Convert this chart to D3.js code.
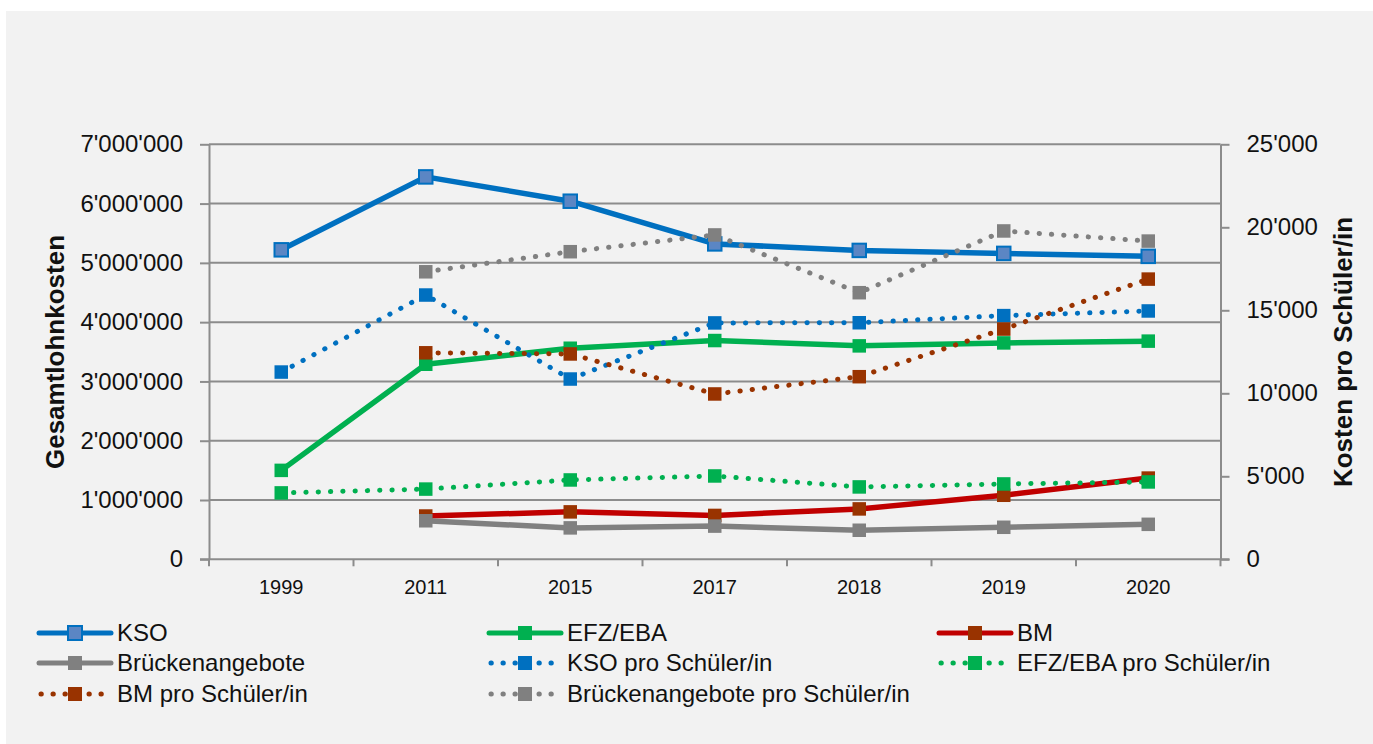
<!DOCTYPE html>
<html>
<head>
<meta charset="utf-8">
<script src="https://cdn.jsdelivr.net/npm/d3@7"></script>
<style>
    body { margin: 0; background: #fff; }
    svg text { font-family: "Liberation Sans", Arial, sans-serif; fill: #111; }
</style>
</head>
<body>
<div id="chart"></div>
<script>
// categories and values
const years = ["1999", "2011", "2015", "2017", "2018", "2019", "2020"];

// Gesamtlohnkosten (left axis)
const kso      = [5220000, 6450000, 6040000, 5320000, 5210000, 5160000, 5110000];
const efz      = [1500000, 3290000, 3560000, 3690000, 3600000, 3650000, 3680000];
const bm       = [null, 730000, 800000, 740000, 850000, 1080000, 1370000];
const bruecken = [null, 650000, 530000, 560000, 490000, 540000, 590000];

// Kosten pro Schüler/in (right axis)
const ksoPro      = [11280, 15920, 10860, 14240, 14250, 14680, 14960];
const efzPro      = [4000, 4230, 4780, 5020, 4360, 4540, 4660];
const bmPro       = [null, 12440, 12370, 9960, 11000, 13870, 16880];
const brueckenPro = [null, 17320, 18530, 19540, 16060, 19780, 19170];

const leftTicks = [0, 1000000, 2000000, 3000000, 4000000, 5000000, 6000000, 7000000];
const rightTicks = [0, 5000, 10000, 15000, 20000, 25000];

const series = [
    {name: "KSO", values: kso, axis: "L", line: "#0070c0", marker: "#5b86c4", mstroke: "#0070c0", dotted: false},
    {name: "EFZ/EBA", values: efz, axis: "L", line: "#00b050", marker: "#00b050", dotted: false},
    {name: "BM", values: bm, axis: "L", line: "#c00000", marker: "#993300", dotted: false},
    {name: "Brückenangebote", values: bruecken, axis: "L", line: "#808080", marker: "#808080", dotted: false},
    {name: "KSO pro Schüler/in", values: ksoPro, axis: "R", line: "#0070c0", marker: "#0070c0", dotted: true},
    {name: "EFZ/EBA pro Schüler/in", values: efzPro, axis: "R", line: "#00b050", marker: "#00b050", dotted: true},
    {name: "BM pro Schüler/in", values: bmPro, axis: "R", line: "#993300", marker: "#993300", dotted: true},
    {name: "Brückenangebote pro Schüler/in", values: brueckenPro, axis: "R", line: "#808080", marker: "#808080", dotted: true}
];

const width = 1373, height = 744;
const plot = {left: 209, right: 1220.5, top: 144.3, bottom: 559.3};

const fmt = d3.formatLocale({decimal: ".", thousands: "'", grouping: [3], currency: ["", ""]}).format(",");

const svg = d3.select("#chart").append("svg")
    .attr("width", width)
    .attr("height", height);

// grey panel
svg.append("rect")
    .attr("x", 6).attr("y", 11)
    .attr("width", width - 6).attr("height", height - 11)
    .attr("fill", "#f2f2f2");

const x = d3.scaleBand().domain(years).range([plot.left, plot.right]);
const yL = d3.scaleLinear().domain([0, 7000000]).range([plot.bottom, plot.top]);
const yR = d3.scaleLinear().domain([0, 25000]).range([plot.bottom, plot.top]);

const axisColor = "#8c8c8c";

// gridlines
svg.append("g")
    .selectAll("line")
    .data(leftTicks.slice(1))
    .join("line")
    .attr("x1", plot.left).attr("x2", plot.right)
    .attr("y1", d => yL(d)).attr("y2", d => yL(d))
    .attr("stroke", axisColor)
    .attr("stroke-width", 2);

// left axis
const gL = svg.append("g")
    .attr("transform", `translate(${plot.left},0)`)
    .call(d3.axisLeft(yL).tickValues(leftTicks).tickFormat(fmt).tickSizeInner(9).tickSizeOuter(0).tickPadding(17));
gL.select(".domain").attr("stroke", axisColor).attr("stroke-width", 2);
gL.selectAll(".tick line").attr("stroke", axisColor).attr("stroke-width", 2);
gL.selectAll(".tick text").attr("font-size", 24).attr("font-family", "Liberation Sans, Arial, sans-serif").attr("fill", "#111");

// right axis
const gR = svg.append("g")
    .attr("transform", `translate(${plot.right},0)`)
    .call(d3.axisRight(yR).tickValues(rightTicks).tickFormat(fmt).tickSizeInner(9).tickSizeOuter(0).tickPadding(17));
gR.select(".domain").attr("stroke", axisColor).attr("stroke-width", 2);
gR.selectAll(".tick line").attr("stroke", axisColor).attr("stroke-width", 2);
gR.selectAll(".tick text").attr("font-size", 24).attr("font-family", "Liberation Sans, Arial, sans-serif").attr("fill", "#111");

// x axis
const gX = svg.append("g");
gX.append("line")
    .attr("x1", plot.left - 9).attr("x2", plot.right + 9)
    .attr("y1", plot.bottom).attr("y2", plot.bottom)
    .attr("stroke", axisColor).attr("stroke-width", 2);
const edges = years.map(d => x(d)).concat([plot.right]);
gX.selectAll(".xt")
    .data(edges)
    .join("line")
    .attr("class", "xt")
    .attr("x1", d => d).attr("x2", d => d)
    .attr("y1", plot.bottom).attr("y2", plot.bottom + 7)
    .attr("stroke", axisColor).attr("stroke-width", 2);
gX.selectAll("text")
    .data(years)
    .join("text")
    .attr("x", d => x(d) + x.bandwidth() / 2)
    .attr("y", 594)
    .attr("text-anchor", "middle")
    .attr("font-size", 20)
    .text(d => d);

// axis titles
svg.append("text")
    .attr("transform", `translate(64,352) rotate(-90)`)
    .attr("text-anchor", "middle")
    .attr("font-size", 26)
    .attr("font-weight", "bold")
    .text("Gesamtlohnkosten");
svg.append("text")
    .attr("transform", `translate(1352,352) rotate(-90)`)
    .attr("text-anchor", "middle")
    .attr("font-size", 26)
    .attr("font-weight", "bold")
    .text("Kosten pro Schüler/in");

// lines + markers
const cx = d => x(d) + x.bandwidth() / 2;

function drawSeries(s) {
    const yScale = s.axis == "L" ? yL : yR;
    const pts = years.map((yr, i) => ({yr: yr, v: s.values[i]})).filter(p => p.v != null);
    const line = d3.line().x(p => cx(p.yr)).y(p => yScale(p.v));
    const g = svg.append("g");
    g.append("path")
        .attr("d", line(pts))
        .attr("fill", "none")
        .attr("stroke", s.line)
        .attr("stroke-width", s.dotted ? 5 : 5.5)
        .attr("stroke-linecap", "round")
        .attr("stroke-linejoin", "round")
        .attr("stroke-dasharray", s.dotted ? "0.3 12" : null);
    const m = 13.5;
    g.selectAll("rect")
        .data(pts)
        .join("rect")
        .attr("x", p => cx(p.yr) - m / 2)
        .attr("y", p => yScale(p.v) - m / 2)
        .attr("width", m).attr("height", m)
        .attr("fill", s.marker)
        .attr("stroke", s.mstroke || "none")
        .attr("stroke-width", s.mstroke ? 2 : 0);
}
series.forEach(drawSeries);

// legend
const legCols = [39, 489, 939];
const legRows = [633, 663, 694];
series.forEach((s, i) => {
    const lx = legCols[i % 3];
    const ly = legRows[Math.floor(i / 3)];
    const g = svg.append("g");
    g.append("line")
        .attr("x1", lx + (s.dotted ? 2 : 0)).attr("x2", lx + 72)
        .attr("y1", ly).attr("y2", ly)
        .attr("stroke", s.line)
        .attr("stroke-width", 5)
        .attr("stroke-linecap", "round")
        .attr("stroke-dasharray", s.dotted ? "0.3 11.7" : null);
    g.append("rect")
        .attr("x", lx + 36 - 7).attr("y", ly - 7)
        .attr("width", 14).attr("height", 14)
        .attr("fill", s.marker)
        .attr("stroke", s.mstroke || "none")
        .attr("stroke-width", s.mstroke ? 2 : 0);
    g.append("text")
        .attr("x", lx + 78)
        .attr("y", ly)
        .attr("dy", "0.35em")
        .attr("font-size", 24)
        .text(s.name);
});
</script>
</body>
</html>
